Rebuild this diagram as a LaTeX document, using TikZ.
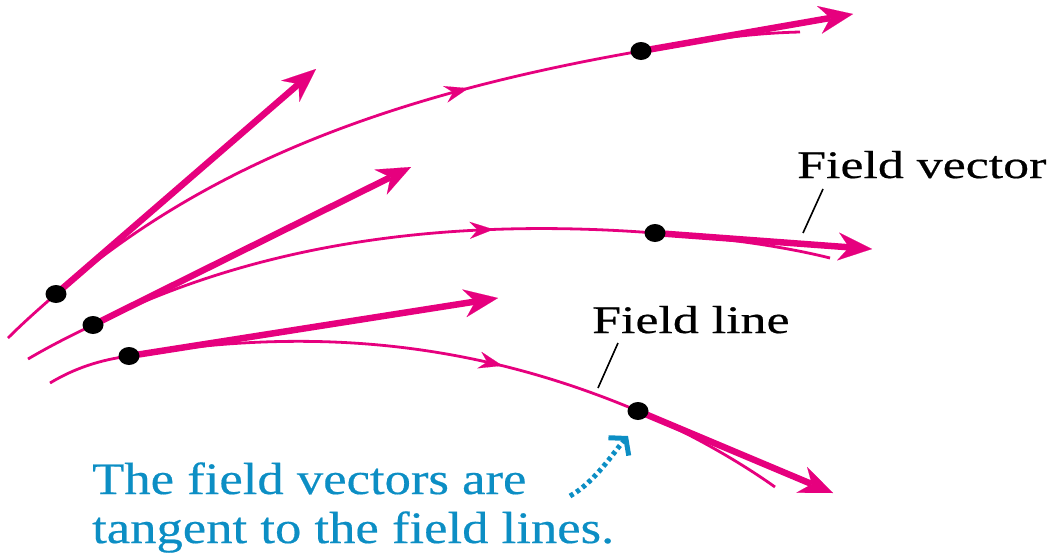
\documentclass[tikz,border=0pt]{standalone}
\usepackage{fontspec}
\usetikzlibrary{arrows.meta,decorations.markings}
\newfontfamily\labfont[FakeStretch=1.33,FakeBold=0.5]{Liberation Serif}
\newfontfamily\notefont[FakeStretch=1.17,FakeBold=0.4]{Liberation Serif}
\definecolor{fieldmag}{RGB}{230,0,126}
\definecolor{noteblue}{RGB}{12,142,196}
\begin{document}
\begin{tikzpicture}[x=1pt,y=-1pt,
  fline/.style={draw=fieldmag, line width=2.8pt},
  midarr/.style={postaction={decorate}, decoration={markings,
     mark=at position #1 with {\arrow{Stealth[length=24pt,width=17pt,inset=8pt,line width=0.1pt]}}}},
  fvec/.style={draw=fieldmag, line width=6.5pt,
     -{Stealth[length=34pt,width=28pt,inset=11pt,line width=0.1pt]}},
  dotfill/.style={fill=black},
  leader/.style={draw=black, line width=1.6pt},
  lab/.style={anchor=base west, inner sep=0pt, font=\labfont\fontsize{39}{45}\selectfont},
  note/.style={anchor=base west, inner sep=0pt, text=noteblue, font=\notefont\fontsize{45}{49}\selectfont},
  hint/.style={draw=noteblue, line width=5pt, dash pattern=on 4pt off 3.5pt,
     -{Straight Barb[length=11pt,width=27pt]}}
]
\useasboundingbox (0,0) rectangle (1060,557);

% field line points
\coordinate (s1) at (8,338);
\coordinate (d1a) at (56,294);
\coordinate (d1b) at (641,51);
\coordinate (e1) at (800,32);
\coordinate (t1a) at (316,69);
\coordinate (t1b) at (853,14);

\coordinate (s2) at (28,359);
\coordinate (d2a) at (93,325);
\coordinate (d2b) at (655,233);
\coordinate (e2) at (830,258);
\coordinate (t2a) at (411,167);
\coordinate (t2b) at (872,249);

\coordinate (s3) at (50,383);
\coordinate (d3a) at (129,356);
\coordinate (d3b) at (638,411);
\coordinate (e3) at (775,487);
\coordinate (t3a) at (498,298);
\coordinate (t3b) at (833,493);

% field lines
\draw[fline] (s1) .. controls (24,322) and (40,308) .. (d1a);
\draw[fline, midarr=0.725] (d1a) .. controls (207,163) and (394,94) .. (d1b);
\draw[fline] (d1b) .. controls (720,37) and (760,33) .. (e1);

\draw[fline] (s2) .. controls (50,346) and (72,335) .. (d2a);
\draw[fline, midarr=0.72] (d2a) .. controls (227,258) and (406,214) .. (d2b);
\draw[fline] (d2b) .. controls (730,238) and (790,248) .. (e2);

\draw[fline] (s3) .. controls (75,368) and (100,360) .. (d3a);
\draw[fline, midarr=0.725] (d3a) .. controls (286,330) and (454,333) .. (d3b);
\draw[fline] (d3b) .. controls (690,433) and (740,462) .. (e3);

% field vectors
\draw[fvec] (d1a) -- (t1a);
\draw[fvec] (d1b) -- (t1b);
\draw[fvec] (d2a) -- (t2a);
\draw[fvec] (d2b) -- (t2b);
\draw[fvec] (d3a) -- (t3a);
\draw[fvec] (d3b) -- (t3b);

% dots
\foreach \p in {d1a,d1b,d2a,d2b,d3a,d3b}
  \fill[dotfill] (\p) ellipse [x radius=10.5pt, y radius=9pt];

% labels
\node[lab] (labv) at (797,178) {Field vector};
\node[lab] (labl) at (592,333) {Field line};
\coordinate (lv1) at (823,189);
\coordinate (lv2) at (803,233);
\coordinate (ll1) at (618,343);
\coordinate (ll2) at (598,388);
\draw[leader] (lv1) -- (lv2);
\draw[leader] (ll1) -- (ll2);

% note
\node[note] (note1) at (92,494) {The field vectors are};
\node[note] (note2) at (92,543) {tangent to the field lines.};
\coordinate (h1) at (570,496);
\coordinate (h2) at (628,436);
\draw[hint] (h1) .. controls (595,482) and (613,453) .. (h2);
\end{tikzpicture}
\end{document}
